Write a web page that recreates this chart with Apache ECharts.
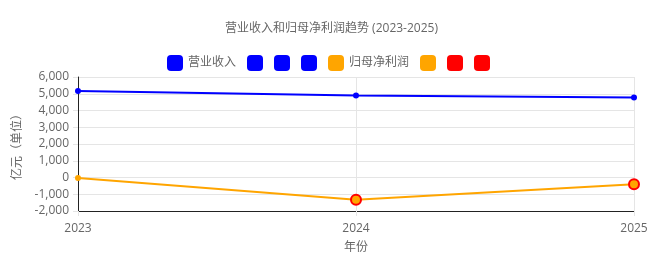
<!DOCTYPE html>
<html><head><meta charset="utf-8">
<script src="https://cdn.jsdelivr.net/npm/echarts@6/dist/echarts.min.js"></script>
<style>html,body{margin:0;padding:0;background:#fff}#c{width:672px;height:255px}</style>
</head><body><div id="c"></div>
<script>
var years = ['2023', '2024', '2025'];
var revenue = [5160, 4900, 4780];
var netProfit = [-30, -1330, -400];
var lossHighlight = [false, true, true];
var yTicks = {min: -2000, max: 6000, step: 1000};
var legendNames = ['营业收入', 'rev_b1', 'rev_b2', 'rev_b3', '归母净利润', 'np_b1', 'np_b2', 'np_b3'];
var legendColors = ['#0000ff', '#0000ff', '#0000ff', '#0000ff', '#ffa500', '#ffa500', '#ff0000', '#ff0000'];

var FONT = "'Open Sans','Noto Sans CJK SC',sans-serif";
var chart = echarts.init(document.getElementById('c'));

var series = [];
legendNames.forEach(function (n, i) {
  if (n === '营业收入') {
    series.push({name: n, type: 'line', data: revenue, symbol: 'circle', symbolSize: 6,
      itemStyle: {color: '#0000ff'}, lineStyle: {color: '#0000ff', width: 2}, z: 3});
  } else if (n === '归母净利润') {
    series.push({name: n, type: 'line', symbol: 'circle',
      data: netProfit.map(function (v, k) {
        return lossHighlight[k]
          ? {value: v, symbolSize: 10, itemStyle: {color: '#ffa500', borderColor: '#ff0000', borderWidth: 2}}
          : {value: v, symbolSize: 6};
      }),
      itemStyle: {color: '#ffa500'}, lineStyle: {color: '#ffa500', width: 2}, z: 3});
  } else {
    series.push({name: n, type: 'line', data: [], itemStyle: {color: legendColors[i]}});
  }
});

chart.setOption({
  animation: false,
  textStyle: {fontFamily: FONT},
  title: {text: '营业收入和归母净利润趋势 (2023-2025)', left: 220, top: 18,
    textStyle: {fontSize: 12, fontWeight: 'normal', color: '#666', fontFamily: FONT}},
  legend: {
    top: 50, left: 162, icon: 'roundRect', itemWidth: 16, itemHeight: 16, itemGap: 11,
    data: legendNames,
    formatter: function (n) { return (n === '营业收入' || n === '归母净利润') ? n : ''; },
    textStyle: {fontSize: 12, color: '#666', fontFamily: FONT},
    selectedMode: false
  },
  grid: {left: 78, right: 38, top: 77, bottom: 44, outerBoundsMode: 'none'},
  xAxis: {
    type: 'category', data: years, boundaryGap: false,
    name: '年份', nameLocation: 'middle', nameGap: 31,
    nameTextStyle: {fontSize: 12, color: '#666'},
    axisLine: {onZero: false, lineStyle: {color: '#222', width: 1}},
    axisTick: {show: true, length: 5, lineStyle: {color: '#e5e5e5'}},
    axisLabel: {fontSize: 12, color: '#666', margin: 12},
    splitLine: {show: true, lineStyle: {color: '#e5e5e5'}}
  },
  yAxis: {
    type: 'value', min: yTicks.min, max: yTicks.max, interval: yTicks.step,
    name: '亿元（单位）', nameLocation: 'middle', nameGap: 48,
    nameTextStyle: {fontSize: 12, color: '#666'},
    axisLine: {show: true, lineStyle: {color: '#222', width: 1}},
    axisTick: {show: true, length: 5, lineStyle: {color: '#e5e5e5'}},
    axisLabel: {fontSize: 12, color: '#666', margin: 9,
      formatter: function (v) { return v.toLocaleString('en-US'); }},
    splitLine: {show: true, lineStyle: {color: '#e5e5e5'}}
  },
  series: series
});
</script></body></html>
